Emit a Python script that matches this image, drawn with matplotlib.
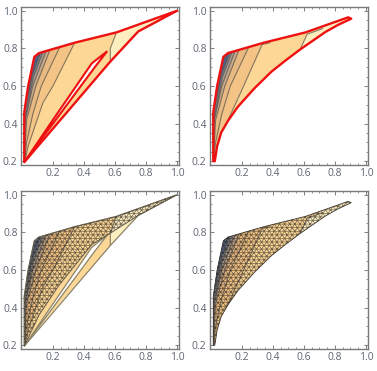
import numpy as np
import matplotlib
matplotlib.use("Agg")
import matplotlib.pyplot as plt
import matplotlib.tri as mtri
from matplotlib.patches import Polygon

plt.rcParams["font.family"] = "Open Sans"
W, H = 377, 371

# outer boundary, shared upper side
upper_x = [0.015, 0.015, 0.04, 0.08, 0.11, 0.34, 0.61]
upper_y = [0.2, 0.46, 0.6, 0.755, 0.775, 0.83, 0.885]

# left plots: lower side and the thin gap
left_end_x = [1.0, 0.75, 0.57, 0.015]
left_end_y = [1.0, 0.89, 0.73, 0.195]
gap_x = [0.015, 0.2, 0.35, 0.45, 0.55, 0.47, 0.38, 0.2]
gap_y = [0.195, 0.42, 0.6, 0.72, 0.785, 0.70, 0.6, 0.40]
# lower edge of the mesh on the bottom left plot
mesh_edge_x = [0.45, 0.24, 0.11, 0.015]
mesh_edge_y = [0.735, 0.52, 0.36, 0.195]

# right plots: curved lower side
right_end_x = [0.885, 0.905, 0.82, 0.738, 0.575, 0.48, 0.39, 0.282, 0.174, 0.11, 0.066, 0.04, 0.025]
right_end_y = [0.965, 0.958, 0.925, 0.887, 0.794, 0.735, 0.676, 0.589, 0.49, 0.415, 0.352, 0.28, 0.2]

# contour lines, outermost first
cont_x = [
    [0.61, 0.57, 0.57],
    [0.34, 0.2, 0.135, 0.04, 0.02],
    [0.24, 0.125, 0.07, 0.03, 0.018],
    [0.18, 0.09, 0.03, 0.016],
    [0.155, 0.07, 0.022, 0.015],
    [0.135, 0.075, 0.018, 0.015],
    [0.12, 0.068, 0.017, 0.015],
]
cont_y = [
    [0.885, 0.8, 0.73],
    [0.83, 0.6, 0.51, 0.28, 0.2],
    [0.80, 0.6, 0.45, 0.3, 0.2],
    [0.79, 0.6, 0.42, 0.2],
    [0.785, 0.6, 0.42, 0.2],
    [0.78, 0.65, 0.42, 0.2],
    [0.778, 0.66, 0.46, 0.2],
]
right_cont_x = [
    [0.72, 0.62, 0.575],
    [0.38, 0.33, 0.2, 0.1, 0.035],
    [0.24, 0.125, 0.07, 0.03, 0.018],
    [0.18, 0.09, 0.03, 0.016],
    [0.155, 0.07, 0.022, 0.015],
    [0.135, 0.075, 0.018, 0.015],
    [0.12, 0.068, 0.017, 0.015],
]
right_cont_y = [
    [0.905, 0.875, 0.794],
    [0.83, 0.82, 0.58, 0.4, 0.22],
    [0.80, 0.6, 0.45, 0.3, 0.2],
    [0.79, 0.6, 0.42, 0.2],
    [0.785, 0.6, 0.42, 0.2],
    [0.78, 0.65, 0.42, 0.2],
    [0.778, 0.66, 0.46, 0.2],
]
band_colors = ["#fdeec0", "#fcd796", "#f3c485", "#e8b981", "#c9a98a", "#a89a8e", "#7f8492", "#4f5f80"]

ticks = [0.2, 0.4, 0.6, 0.8, 1.0]
minor = np.arange(0.2, 1.01, 0.05)


def make_axes(px_left, px_top, px_right, px_bottom):
    ax = fig.add_axes([px_left / W, 1 - px_bottom / H, (px_right - px_left) / W, (px_bottom - px_top) / H])
    ax.set_xlim(-0.006, 1.013)
    ax.set_ylim(0.18, 1.02)
    ax.set_xticks(ticks)
    ax.set_yticks(ticks)
    ax.set_xticks(minor, minor=True)
    ax.set_yticks(minor, minor=True)
    ax.tick_params(which="major", direction="in", length=3, width=0.7, color="#808080",
                   top=True, right=True, labelsize=7.5, labelcolor="#5f6670", pad=2.5)
    ax.tick_params(which="minor", direction="in", length=1.6, width=0.6, color="#808080", top=True, right=True)
    for s in ax.spines.values():
        s.set_color("#7a7a7a")
        s.set_linewidth(1.0)
    return ax


def bands(ax, outline, cx, cy):
    region = Polygon(outline, closed=True, fc=band_colors[0], ec="none", zorder=1)
    ax.add_patch(region)
    for i in range(len(cx)):
        pts = list(zip(cx[i], cy[i])) + [(-0.1, 0.1), (-0.1, 1.1)]
        p = Polygon(pts, closed=True, fc=band_colors[i + 1], ec="none", zorder=2 + i * 0.01)
        ax.add_patch(p)
        p.set_clip_path(region)
        ln, = ax.plot(cx[i], cy[i], color="#55504a", lw=0.8, alpha=0.7, zorder=3)
        ln.set_clip_path(region)
    return region


def mesh(ax, region):
    xs = np.arange(-0.02, 1.03, 0.033)
    ys = np.arange(0.16, 1.03, 0.019)
    gx, gy = np.meshgrid(xs, ys)
    gx[1::2] += 0.0165
    tri = mtri.Triangulation(gx.ravel(), gy.ravel())
    lines = ax.triplot(tri, color="#2b2620", lw=0.5, alpha=0.65, zorder=5)
    for ln in lines:
        ln.set_clip_path(region)


fig = plt.figure(figsize=(W / 100, H / 100), dpi=100)

left_outline = list(zip(upper_x, upper_y)) + list(zip(left_end_x, left_end_y))
right_outline = list(zip(upper_x, upper_y)) + list(zip(right_end_x, right_end_y))
gap_pts = list(zip(gap_x, gap_y))

# top left
ax = make_axes(21, 7, 179, 165)
bands(ax, left_outline, cont_x, cont_y)
ax.add_patch(Polygon(gap_pts, closed=True, fc="white", ec="#ee1111", lw=1.5, zorder=6))
ax.add_patch(Polygon(left_outline, closed=True, fc="none", ec="#ee1111", lw=1.7, joinstyle="round", zorder=7))

# top right
ax = make_axes(210, 7, 368, 165)
bands(ax, right_outline, right_cont_x, right_cont_y)
ax.add_patch(Polygon(right_outline, closed=True, fc="none", ec="#ee1111", lw=1.7, joinstyle="round", zorder=7))

# bottom left
ax = make_axes(21, 191, 179, 349)
bands(ax, left_outline, cont_x, cont_y)
ax.add_patch(Polygon(gap_pts, closed=True, fc="white", ec="#8c8468", lw=0.9, zorder=4))
ax.add_patch(Polygon(left_outline, closed=True, fc="none", ec="#8c8468", lw=0.9, zorder=4))
mesh_outline = list(zip(upper_x, upper_y)) + [(1.0, 1.0), (0.75, 0.89), (0.55, 0.785)] + list(zip(mesh_edge_x, mesh_edge_y))
mesh_region = Polygon(mesh_outline, closed=True, fc="none", ec="#6d6658", lw=0.7, zorder=4.5)
ax.add_patch(mesh_region)
mesh(ax, mesh_region)

# bottom right
ax = make_axes(210, 191, 368, 349)
region = bands(ax, right_outline, right_cont_x, right_cont_y)
mesh(ax, region)
ax.add_patch(Polygon(right_outline, closed=True, fc="none", ec="#3a3530", lw=0.6, zorder=6))

fig.savefig("out.png", dpi=100)
